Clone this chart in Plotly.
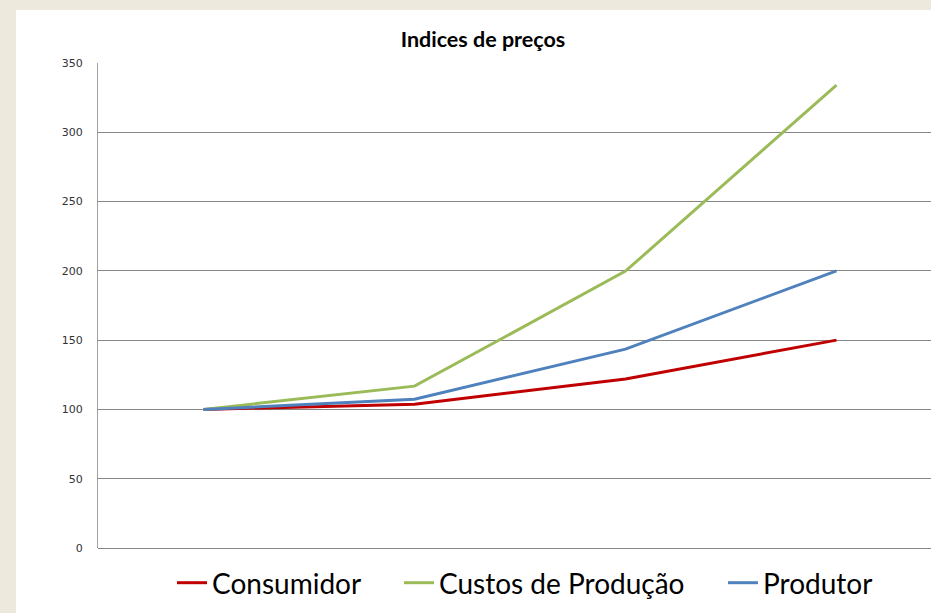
import plotly.graph_objects as go

categories = ["1", "2", "3", "4"]
consumidor = [100, 103.8, 122, 150]
custos = [100, 116.8, 199.8, 334]
produtor = [100, 107.4, 143.5, 200]
y_ticks = [0, 50, 100, 150, 200, 250, 300, 350]

W, H = 931, 613
ml, mr, mt, mb = 98, 0, 63, 65
pw, ph = W - ml - mr, H - mt - mb

def px_x(p):
    return (p - ml) / pw

def px_y(p):
    return (H - mb - p) / ph

fig = go.Figure()
series = [("Consumidor", consumidor, "#C00000", "legend", 177),
          ("Custos de Produção", custos, "#9BBB59", "legend2", 404),
          ("Produtor", produtor, "#4F81BD", "legend3", 728)]
legend_font = dict(family="Lato, Open Sans, sans-serif", size=28, color="black")
legends = {}
for name, vals, col, lg, lx in series:
    fig.add_trace(go.Scatter(x=list(range(len(categories))), y=vals, name=name,
                             mode="lines", line=dict(color=col, width=3), legend=lg))
    legends[lg] = dict(orientation="h", x=px_x(lx - 5), xanchor="left",
                       y=px_y(583), yanchor="middle", font=legend_font,
                       bgcolor="rgba(0,0,0,0)", itemwidth=30)

fig.add_shape(type="rect", xref="paper", yref="paper",
              x0=px_x(16), x1=px_x(940), y0=px_y(620), y1=px_y(10),
              fillcolor="white", line=dict(width=0), layer="below")

fig.update_layout(
    width=W, height=H,
    margin=dict(l=ml, r=mr, t=mt, b=mb),
    paper_bgcolor="#EDE9DC",
    plot_bgcolor="rgba(0,0,0,0)",
    title=dict(text="<b>Indices de preços</b>", xref="container", x=483 / W, xanchor="center",
               yref="container", y=1 - 39 / H, yanchor="middle",
               font=dict(family="Lato, Open Sans, sans-serif", size=21.5, color="black")),
    xaxis=dict(range=[-0.5, -0.5 + pw / 211], showgrid=False, showticklabels=False,
               zeroline=False, showline=False, fixedrange=True),
    yaxis=dict(range=[0, 350], tickvals=y_ticks, showgrid=True, gridcolor="#868686",
               gridwidth=1, zeroline=True, zerolinecolor="#868686", zerolinewidth=1,
               showline=True, linecolor="#A0A0A0", linewidth=1,
               tickfont=dict(family="DejaVu Sans, Verdana, sans-serif", size=11, color="#333333"),
               ticklabelstandoff=12),
    showlegend=True,
    **legends,
)

fig.write_html("out.html", config={"displayModeBar": False},
               post_script="document.body.style.margin='0';")
